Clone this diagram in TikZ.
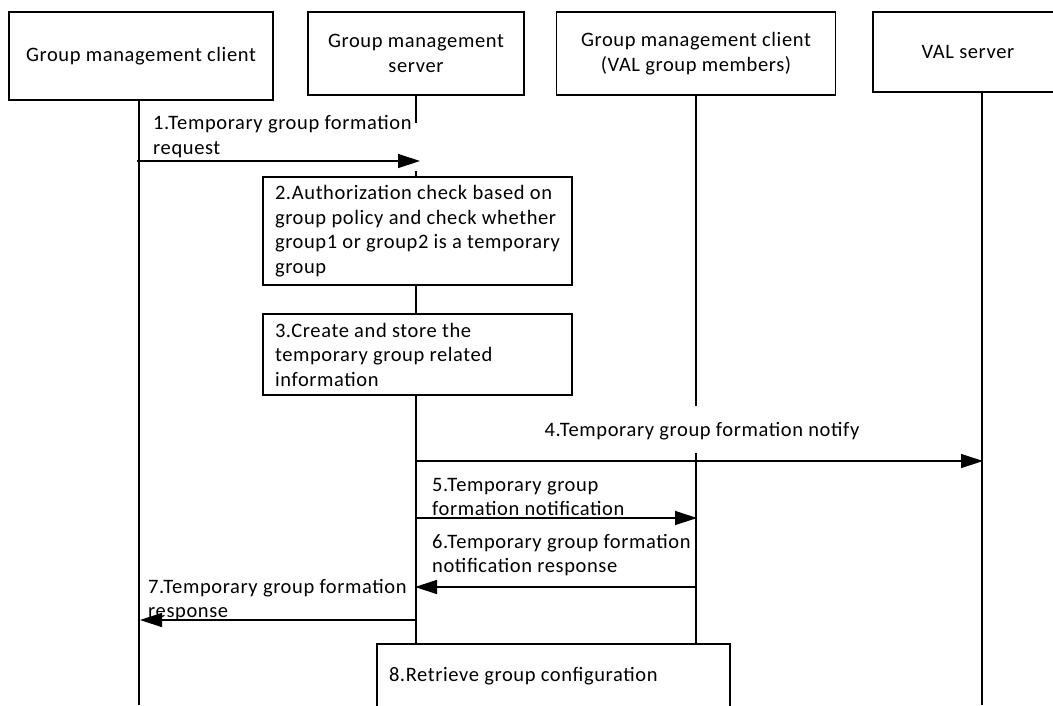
\documentclass[tikz,border=0pt]{standalone}
\usepackage{fontspec}
\setmainfont[LetterSpace=3]{Carlito}
\usetikzlibrary{arrows.meta}
\begin{document}
\begin{tikzpicture}[x=1pt,y=-1pt,
  every node/.style={font=\fontsize{20.5}{24.5}\selectfont, inner sep=0pt},
  entity/.style={draw, line width=1.3pt, align=center},
  stepbox/.style={draw, line width=1.3pt, align=flush left, inner xsep=12pt},
  life/.style={line width=1.3pt},
  msg/.style={line width=1.3pt, -{Triangle[length=22pt,width=14pt]}},
  lbl/.style={align=flush left, anchor=west}]
\useasboundingbox (0,0) rectangle (1053,705);
% entities
\node[entity, minimum width=264pt, minimum height=88pt] (e1) at (141,56) {Group management client};
\node[entity, minimum width=216pt, minimum height=83pt] (e2) at (416,53.5) {Group management\\server};
\node[entity, minimum width=279pt, minimum height=83pt] (e3) at (696,53.5) {Group management client\\(VAL group members)};
\node[entity, minimum width=190pt, minimum height=80pt] (e4) at (968,52) {VAL server};
% step boxes
\node[stepbox, minimum width=309pt, minimum height=108pt, text width=285pt] (s2) at (417.5,231) {2.Authorization check based on\\group policy and check whether\\group1 or group2 is a temporary\\group};
\node[stepbox, minimum width=309pt, minimum height=81pt, text width=285pt] (s3) at (417.5,354.5) {3.Create and store the\\temporary group related\\information};
\node[stepbox, minimum width=353pt, minimum height=64pt, text width=329pt] (s8) at (553.5,676) {8.Retrieve group configuration};
% lifeline reference coordinates
\coordinate (cx) at (139,0);
\coordinate (sx) at (416,0);
\coordinate (mx) at (696,0);
\coordinate (vx) at (982,0);
\coordinate (sA) at (416,123);
\coordinate (sB) at (416,171);
\coordinate (mA) at (696,406);
\coordinate (mB) at (696,453);
\coordinate (cEnd) at (139,705);
\coordinate (vEnd) at (982,705);
% lifelines
\draw[life] (e1.south -| cx) -- (cEnd);
\draw[life] (e2.south -| sx) -- (sA);
\draw[life] (sB) -- (s2.north -| sx);
\draw[life] (s2.south -| sx) -- (s3.north -| sx);
\draw[life] (s3.south -| sx) -- (s8.north -| sx);
\draw[life] (e3.south -| mx) -- (mA);
\draw[life] (mB) -- (s8.north -| mx);
\draw[life] (e4.south -| vx) -- (vEnd);
% message coordinates
\coordinate (m1a) at (137,161);  \coordinate (m1b) at (420,161);
\coordinate (m4a) at (416,461);  \coordinate (m4b) at (983,461);
\coordinate (m5a) at (416,518);  \coordinate (m5b) at (697,518);
\coordinate (m6a) at (696,587);  \coordinate (m6b) at (415,587);
\coordinate (m7a) at (416,620);  \coordinate (m7b) at (140,620);
% messages
\draw[msg] (m1a) -- (m1b);
\draw[msg] (m4a) -- (m4b);
\draw[msg] (m5a) -- (m5b);
\draw[msg] (m6a) -- (m6b);
\draw[msg] (m7a) -- (m7b);
% labels
\node[lbl] (l1) at (153,136.5) {1.Temporary group formation\\request};
\node (l4) at (702,431) {4.Temporary group formation notify};
\node[lbl] (l5) at (432,497) {5.Temporary group\\formation notification};
\node[lbl] (l6) at (432,555) {6.Temporary group formation\\notification response};
\node[lbl] (l7) at (148,600) {7.Temporary group formation\\response};
\end{tikzpicture}
\end{document}
